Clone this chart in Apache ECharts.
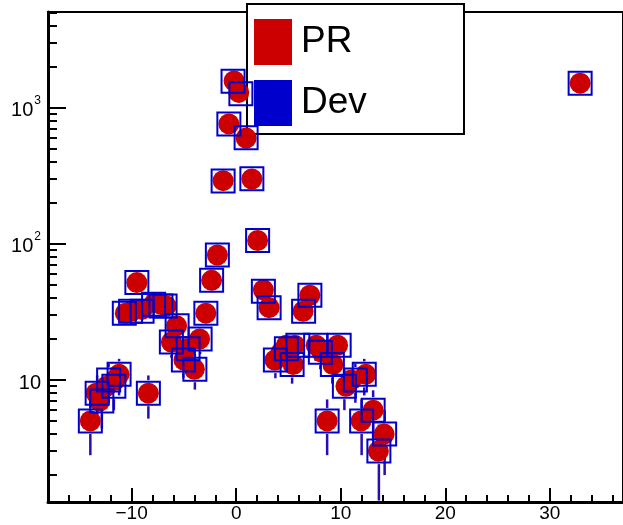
<!DOCTYPE html>
<html>
<head>
<meta charset="utf-8">
<script src="https://cdn.jsdelivr.net/npm/echarts@6/dist/echarts.min.js"></script>
<style>
  html, body { margin: 0; padding: 0; background: #fff; }
  #chart { width: 623px; height: 525px; }
</style>
</head>
<body>
<div id="chart"></div>
<script>
// PR points (red circles)
const prX = [-13.95, -13.4, -13.05, -12.4, -11.6, -11.2, -8.4, -9.5, -10.6, -10.0, -9.0, -7.8, -7.2, -6.7,
  -6.2, -5.7, -5.0, -4.8, -4.0, -3.5, -2.9, -2.35, -1.8, -1.25, -0.7, -0.2, 0.25, 0.95,
  1.5, 2.05, 2.6, 3.15, 3.7, 4.3, 4.8, 5.45, 5.6, 6.4, 7.05, 7.65, 8.2, 8.7,
  9.25, 9.7, 10.5, 11.0, 11.95, 12.4, 13.1, 13.6, 14.15, 32.9]
const prY = [5, 8, 7, 9, 10, 11, 8, 52, 31, 32, 33, 37, 36, 35,
  19, 25, 14, 17, 12, 20, 31, 54, 83, 292, 763, 1580, 1300, 600,
  300, 106, 46, 34, 14, 16, 18, 13, 18, 32, 42, 18, 16, 5,
  13, 18, 9, 10, 5, 11, 6, 3, 4, 1520]

// Dev points (blue open squares) and their error bars
const devX = [-13.95, -13.3, -12.85, -12.2, -11.7, -11.2, -8.4, -9.5, -10.7, -10.1, -9.0, -7.9, -7.2, -6.8,
  -6.2, -5.65, -5.05, -4.6, -3.95, -3.45, -2.9, -2.35, -1.8, -1.25, -0.7, -0.3, 0.45, 0.95,
  1.5, 2.05, 2.6, 3.15, 3.75, 4.8, 5.35, 5.9, 6.45, 7.05, 7.6, 8.05, 9.2, 9.85,
  8.7, 10.35, 11.4, 12.25, 12.0, 13.1, 13.65, 14.2, 32.9]
const devY = [5, 8, 7, 10, 9, 11, 8, 52, 31, 32, 32, 36, 35, 35,
  19, 25, 14, 17, 12, 20, 31, 54, 83, 290, 763, 1570, 1270, 603,
  301, 106, 45, 34, 14, 17, 13, 18, 32, 42, 18, 16, 13, 18,
  5, 9, 10, 11, 5, 6, 3, 4, 1520]
const devErr = [2.2, 2.8, 2.6, 3.2, 3, 3.3, 2.8, 7.2, 5.6, 5.7, 5.7, 6, 5.9, 5.9,
  4.4, 5, 3.7, 4.1, 3.5, 4.5, 5.6, 7.3, 9.1, 17, 27.6, 39.6, 35.6, 24.6,
  17.3, 10.3, 6.7, 5.8, 3.7, 4.1, 3.6, 4.2, 5.7, 6.5, 4.2, 4, 3.6, 4.2,
  2.2, 3, 3.2, 3.3, 2.2, 2.4, 1.7, 2, 39]

// axis ticks
const xMajor = [-10, 0, 10, 20, 30]
const xMinor = [-16, -14, -12, -8, -6, -4, -2, 2, 4, 6, 8, 12, 14, 16, 18, 22, 24, 26, 28, 32, 34, 36]
const yMajor = [10, 100, 1000]
const yMinor = [2, 3, 4, 5, 6, 7, 8, 9, 20, 30, 40, 50, 60, 70, 80, 90,
  200, 300, 400, 500, 600, 700, 800, 900, 2000, 3000, 4000, 5000]
const legendNames = ['PR', 'Dev']

const FONT = '"Liberation Sans", Arial, sans-serif'
const X_MIN = -18, X_MAX = 37
const Y_MIN = 1.268, Y_MAX = 5070

const chart = echarts.init(document.getElementById('chart'))

const prData = prX.map((x, i) => [x, prY[i]])
const devData = devX.map((x, i) => [x, devY[i]])
const errData = devX.map((x, i) => [x, devY[i], devErr[i]])

function yLabel(v) {
  const e = Math.round(Math.log10(v))
  if (e === 1) return '{b|10}'
  return '{b|10}{s|' + e + '}'
}

const option = {
  animation: false,
  backgroundColor: '#fff',
  grid: {
    left: 48, right: -4, top: 12, bottom: 23,
    show: true, borderColor: '#000', borderWidth: 2, backgroundColor: 'transparent'
  },
  xAxis: [{
    type: 'value', min: X_MIN, max: X_MAX, position: 'bottom',
    axisLine: { onZero: false, lineStyle: { color: '#000', width: 3 } },
    axisTick: { customValues: xMajor, inside: true, length: 14, lineStyle: { color: '#000', width: 2 } },
    axisLabel: {
      customValues: xMajor, margin: 2, color: '#000', fontSize: 19, fontFamily: FONT,
      formatter: v => String(v).replace('-', '\u2212')
    },
    splitLine: { show: false }
  }, {
    type: 'value', min: X_MIN, max: X_MAX, position: 'bottom',
    axisLine: { show: false, onZero: false },
    axisTick: { customValues: xMinor, inside: true, length: 7, lineStyle: { color: '#000', width: 2 } },
    axisLabel: { show: false },
    splitLine: { show: false }
  }],
  yAxis: [{
    type: 'log', min: Y_MIN, max: Y_MAX, position: 'left',
    axisLine: { onZero: false, lineStyle: { color: '#000', width: 3 } },
    axisTick: { customValues: yMajor, inside: true, length: 18, lineStyle: { color: '#000', width: 2 } },
    axisLabel: {
      customValues: yMajor, margin: 7, color: '#000', fontFamily: FONT,
      formatter: yLabel,
      rich: {
        b: { fontSize: 20, fontFamily: FONT, color: '#000', padding: [6, 0, 0, 0] },
        s: { fontSize: 12, fontFamily: FONT, color: '#000', padding: [0, 0, 14, 1] }
      }
    },
    splitLine: { show: false }
  }, {
    type: 'log', min: Y_MIN, max: Y_MAX, position: 'left',
    axisLine: { show: false, onZero: false },
    axisTick: { customValues: yMinor, inside: true, length: 9, lineStyle: { color: '#000', width: 2 } },
    axisLabel: { show: false },
    splitLine: { show: false }
  }],
  series: [{
    // error bars, skipped inside the marker
    type: 'custom',
    name: 'err',
    xAxisIndex: 0, yAxisIndex: 0,
    z: 1,
    clip: true,
    data: errData,
    renderItem(params, api) {
      const x = api.value(0), y = api.value(1), e = api.value(2)
      const c = api.coord([x, y])
      const top = api.coord([x, y + e])
      const bot = api.coord([x, Math.max(y - e, Y_MIN)])
      const gap = 13
      const children = []
      if (c[1] - gap > top[1]) {
        children.push({ type: 'line', shape: { x1: c[0], y1: top[1], x2: c[0], y2: c[1] - gap },
          style: { stroke: '#2a0cb4', lineWidth: 2.5 } })
      }
      if (bot[1] > c[1] + gap) {
        children.push({ type: 'line', shape: { x1: c[0], y1: c[1] + gap, x2: c[0], y2: bot[1] },
          style: { stroke: '#2a0cb4', lineWidth: 2.5 } })
      }
      return { type: 'group', children }
    }
  }, {
    type: 'scatter',
    name: 'PR',
    xAxisIndex: 0, yAxisIndex: 0,
    z: 2,
    symbol: 'circle',
    symbolSize: 21,
    itemStyle: { color: '#cc0000', opacity: 1 },
    data: prData
  }, {
    type: 'scatter',
    name: 'Dev',
    xAxisIndex: 0, yAxisIndex: 0,
    z: 3,
    symbol: 'rect',
    symbolSize: 23,
    itemStyle: { color: 'rgba(0,0,0,0)', borderColor: '#0000cc', borderWidth: 2, opacity: 1 },
    data: devData
  }],
  graphic: [{
    type: 'group',
    left: 246, top: 3, z: 100,
    children: [
      { type: 'rect', shape: { x: 0, y: 0, width: 217, height: 130 },
        style: { fill: '#fff', stroke: '#000', lineWidth: 2 } },
      { type: 'rect', shape: { x: 7, y: 15, width: 38, height: 46 }, style: { fill: '#cc0000' } },
      { type: 'text', x: 54, y: 38, style: { text: legendNames[0], font: '37px ' + FONT,
        fill: '#000', verticalAlign: 'middle' } },
      { type: 'rect', shape: { x: 7, y: 76, width: 38, height: 46 }, style: { fill: '#0000cc' } },
      { type: 'text', x: 54, y: 99, style: { text: legendNames[1], font: '37px ' + FONT,
        fill: '#000', verticalAlign: 'middle' } }
    ]
  }]
}

chart.setOption(option)
</script>
</body>
</html>
